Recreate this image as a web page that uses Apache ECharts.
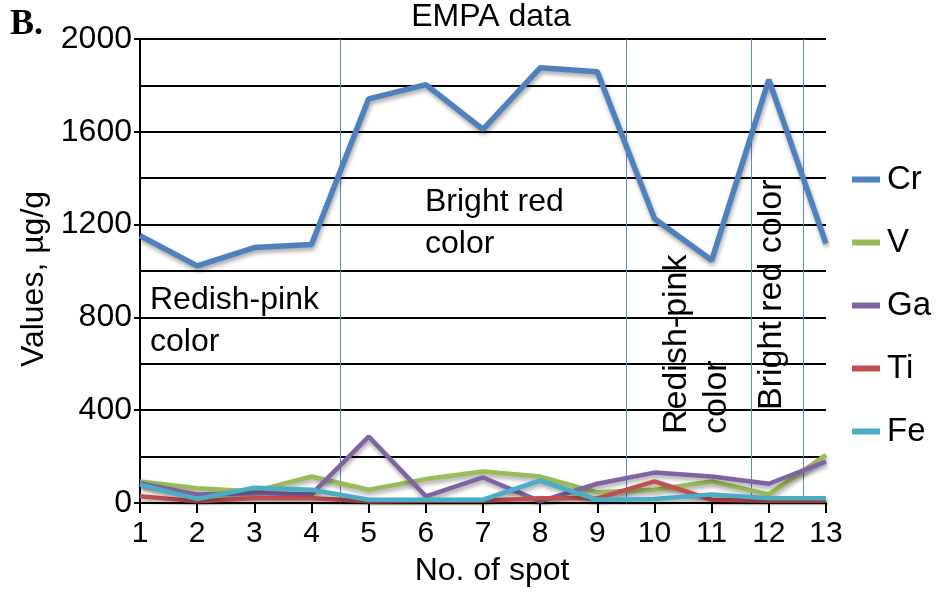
<!DOCTYPE html>
<html>
<head>
<meta charset="utf-8">
<script src="https://cdn.jsdelivr.net/npm/echarts@6/dist/echarts.min.js"></script>
<style>
html,body{margin:0;padding:0;background:#fff;}
#c{width:942px;height:592px;}
</style>
</head>
<body>
<div id="c"></div>
<script>
const spots = [1,2,3,4,5,6,7,8,9,10,11,12,13];
const seriesNames = ['Cr','V','Ga','Ti','Fe'];
const crValues = [1152,1022,1101,1114,1742,1803,1610,1876,1859,1225,1046,1825,1118];
const vValues  = [93,64,50,114,57,103,136,114,46,57,93,37,207];
const gaValues = [85,37,43,37,286,29,110,7,83,131,114,83,178];
const tiValues = [29,7,20,20,7,10,10,21,20,93,14,10,10];
const feValues = [79,17,66,57,14,14,14,97,14,17,37,20,20];
const boundaries = [4.5, 9.5, 11.7, 12.6];
const yTicks = [0,400,800,1200,1600,2000];
const colors = ['#4f81bd','#9bbb59','#8064a2','#c0504d','#4bacc6'];

const FONT = '"Liberation Sans", Arial, sans-serif';
const allValues = [crValues, vValues, gaValues, tiValues, feValues];

const chart = echarts.init(document.getElementById('c'), null, {renderer:'canvas'});

const series = seriesNames.map((name, i) => {
  const s = {
    name: name,
    type: 'line',
    data: spots.map((x, k) => [x, allValues[i][k]]),
    symbol: 'none',
    smooth: false,
    lineStyle: {
      color: colors[i],
      width: i === 0 ? 5.5 : 4.5,
      shadowColor: 'rgba(0,0,0,0.35)',
      shadowBlur: 4,
      shadowOffsetX: 1,
      shadowOffsetY: 3
    },
    itemStyle: {color: colors[i]},
    z: 3 + i,
    animation: false
  };
  if (i === 0) {
    s.markLine = {
      silent: true,
      symbol: ['none','none'],
      label: {show: false},
      lineStyle: {color: '#5b8ac8', width: 1, type: 'solid'},
      data: boundaries.map(b => ({xAxis: b})),
      animation: false,
      z: 1
    };
  }
  return s;
});

const option = {
  animation: false,
  backgroundColor: '#fff',
  color: colors,
  title: {
    text: 'EMPA data',
    left: 486,
    textAlign: 'center',
    top: -4,
    textStyle: {fontFamily: FONT, fontSize: 32, fontWeight: 'normal', color: '#000'}
  },
  legend: {
    orient: 'vertical',
    left: 847,
    top: 158,
    itemGap: 30,
    itemWidth: 28,
    itemHeight: 6,
    icon: 'rect',
    data: seriesNames,
    textStyle: {fontFamily: FONT, fontSize: 33, color: '#000', padding: [0,0,0,2]}
  },
  grid: {left: 140, right: 116, top: 39, bottom: 86, containLabel: false},
  xAxis: {
    type: 'value',
    min: 1, max: 13, interval: 1,
    name: 'No. of spot',
    nameLocation: 'middle',
    nameGap: 52,
    nameTextStyle: {fontFamily: FONT, fontSize: 32, color: '#000', padding: [0,0,0,18]},
    axisLine: {show: true, onZero: false, lineStyle: {color: '#000', width: 2}},
    axisTick: {show: true, length: 10, lineStyle: {color: '#000', width: 2}},
    axisLabel: {fontFamily: FONT, fontSize: 30, color: '#000', margin: 16},
    splitLine: {show: false}
  },
  yAxis: {
    type: 'value',
    min: 0, max: 2000, interval: 400,
    name: 'Values, µg/g',
    nameLocation: 'middle',
    nameGap: 78,
    nameRotate: 90,
    nameTextStyle: {fontFamily: FONT, fontSize: 32, color: '#000', padding: [0,16,0,0]},
    axisLine: {show: true, lineStyle: {color: '#000', width: 2}},
    axisTick: {show: true, length: 6, lineStyle: {color: '#000', width: 2}},
    axisLabel: {fontFamily: FONT, fontSize: 32, color: '#000', margin: 8,
      formatter: v => (yTicks.indexOf(v) >= 0 ? String(v) : '')},
    splitLine: {show: true, lineStyle: {color: '#000', width: 2}},
    minorTick: {show: false, splitNumber: 2},
    minorSplitLine: {show: true, lineStyle: {color: '#000', width: 2}}
  },
  graphic: [
    {type: 'text', left: 10, top: 7, style: {text: 'B.', font: 'bold 36px "Liberation Serif", "Times New Roman", serif', fill: '#000'}},
    {type: 'text', x: 425, y: 181, style: {text: 'Bright red\ncolor', font: '32px ' + FONT, lineHeight: 42, fill: '#000', textAlign: 'left', textVerticalAlign: 'top'}},
    {type: 'text', x: 150, y: 279, style: {text: 'Redish-pink\ncolor', font: '32px ' + FONT, lineHeight: 42, fill: '#000', textAlign: 'left', textVerticalAlign: 'top'}},
    {type: 'text', x: 657, y: 434, rotation: Math.PI/2, style: {text: 'Redish-pink\ncolor', font: '34px ' + FONT, lineHeight: 40, fill: '#000', textAlign: 'left', textVerticalAlign: 'top'}},
    {type: 'text', x: 752, y: 410, rotation: Math.PI/2, style: {text: 'Bright red color', font: '34px ' + FONT, lineHeight: 40, fill: '#000', textAlign: 'left', textVerticalAlign: 'top'}}
  ],
  series: series
};
chart.setOption(option);
</script>
</body>
</html>
